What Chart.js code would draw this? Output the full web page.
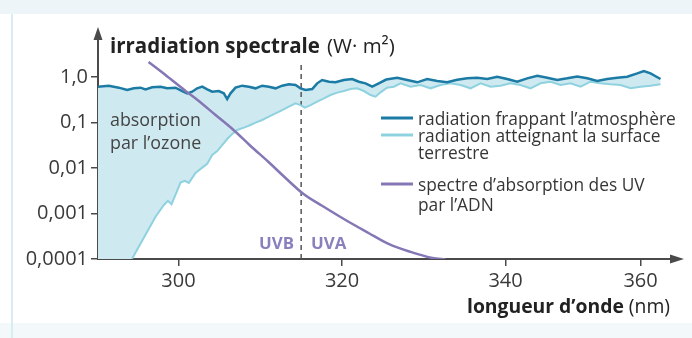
<!DOCTYPE html>
<html><head><meta charset="utf-8">
<script src="https://cdn.jsdelivr.net/npm/chart.js@4"></script>
<style>html,body{margin:0;padding:0;background:#fff;overflow:hidden}#wrap{width:692px;height:338px}</style>
</head><body><div id="wrap"><canvas id="c" width="692" height="338"></canvas></div>
<script>
// ---------- data ----------
const atmoWavelengths = [290.0,291.47,292.70,293.72,294.53,295.35,295.96,296.78,297.80,298.62,299.63,300.45,301.06,301.67,302.28,302.90,303.51,304.12,304.93,305.54,305.95,306.36,306.97,307.79,308.60,309.42,310.23,311.05,311.87,312.68,313.50,314.31,314.92,315.54,316.35,316.96,317.57,318.39,319.20,320.22,321.24,322.06,322.87,323.69,324.50,325.40,326.75,327.97,329.20,330.42,331.64,332.87,334.09,335.31,336.54,337.76,338.98,340.25,341.73,343.21,344.70,346.18,347.66,349.14,350.62,352.10,353.58,355.06,356.54,358.03,359.51,360.49,361.48,362.96];
const atmoIrradiance = [0.61,0.645,0.583,0.518,0.564,0.583,0.536,0.593,0.613,0.564,0.583,0.492,0.438,0.476,0.564,0.613,0.536,0.476,0.492,0.438,0.328,0.438,0.583,0.645,0.613,0.564,0.645,0.613,0.564,0.645,0.690,0.667,0.564,0.518,0.545,0.726,0.859,0.789,0.764,0.859,0.904,0.789,0.726,0.613,0.726,0.88,0.967,0.859,0.764,0.904,0.817,0.764,0.874,0.935,0.967,0.904,1.017,0.904,0.789,0.935,1.07,0.967,0.859,0.935,1.03,0.935,0.817,0.904,0.967,1.017,1.20,1.355,1.20,0.904];

const surfWavelengths = [290.0,294.3,295.96,297.19,298.21,298.7,299.14,299.84,300.24,300.77,301.26,302.08,302.90,303.51,304.12,304.73,305.34,305.95,306.57,307.18,307.99,308.81,309.42,310.23,311.05,311.87,312.68,313.50,314.31,314.92,315.46,316.15,316.96,317.78,318.59,319.41,320.22,321.04,321.85,322.67,323.49,324.10,324.71,325.5,326.34,327.16,328.38,329.60,330.83,332.05,333.27,334.50,335.72,336.94,338.17,339.39,340.74,342.22,343.70,345.19,346.67,348.15,349.63,351.11,352.59,354.07,355.56,357.04,358.52,360.00,361.48,362.96];
const surfIrradiance = [0.000006,0.0001,0.00034,0.00085,0.00154,0.0019,0.0016,0.0032,0.0048,0.0052,0.0047,0.0078,0.0102,0.0124,0.0193,0.0235,0.032,0.0434,0.0559,0.0685,0.077,0.0881,0.0991,0.1135,0.134,0.159,0.188,0.223,0.264,0.242,0.212,0.242,0.287,0.340,0.402,0.453,0.492,0.545,0.564,0.492,0.402,0.370,0.461,0.58,0.613,0.726,0.613,0.667,0.564,0.667,0.726,0.667,0.564,0.726,0.613,0.645,0.726,0.667,0.564,0.726,0.789,0.667,0.726,0.613,0.789,0.726,0.690,0.667,0.564,0.613,0.645,0.690];

const dnaWavelengths = [296.33,298.41,300.86,302.32,304.53,306.73,308.81,311.01,313.09,315.29,317.61,320.43,323.24,325.69,328.38,331.07,332.66];
const dnaAbsorption = [2.14,1.106,0.492,0.312,0.146,0.0684,0.0305,0.01355,0.00603,0.00268,0.00146,0.000719,0.000373,0.000214,0.000143,0.000105,0.0000975];

const uvBoundary = 315;
const uvBoundaryRange = [0.0001, 2.03];

const xTickValues = [300, 320, 340, 360];
const yTickValues = [0.0001, 0.001, 0.01, 0.1, 1];
const yTickLabels = ['0,0001', '0,001', '0,01', '0,1', '1,0'];

const seriesNames = ['radiation frappant l’atmosphère', 'radiation atteignant la surface terrestre', 'spectre d’absorption des UV par l’ADN'];

// ---------- styles ----------
const C_ATMO = '#1b7ba5', C_SURF = '#8fd2df', C_FILL = '#cfe9f1', C_DNA = '#8577b5', C_UV = '#8a80bd';
const C_AXIS = '#4a4a4a', C_TEXT = '#363636';
const FONT = '"Open Sans"';

// the reference axis is compressed beyond 340 nm
const K = 0.8257;
const warp = v => v <= 340 ? v : 340 + (v - 340) * K;
const unwarp = w => w <= 340 ? w : 340 + (w - 340) / K;
class WarpScale extends Chart.LinearScale {
  getPixelForValue(value) {
    if (value == null) return NaN;
    const a = warp(this.min), b = warp(this.max);
    return this.getPixelForDecimal((warp(value) - a) / (b - a));
  }
  getValueForPixel(pixel) {
    const a = warp(this.min), b = warp(this.max);
    return unwarp(a + this.getDecimalForPixel(pixel) * (b - a));
  }
}
WarpScale.id = 'warp';
WarpScale.defaults = Chart.LinearScale.defaults;
Chart.register(WarpScale);

const zip = (xs, ys) => xs.map((x, i) => ({x, y: ys[i]}));

function fitSize(ctx, text, target, weight) {
  ctx.font = weight + ' 20px ' + FONT;
  return 20 * target / ctx.measureText(text).width;
}

const annot = {
  id: 'annot',
  beforeDraw(chart) {
    const ctx = chart.ctx;
    ctx.save();
    ctx.fillStyle = '#ffffff'; ctx.fillRect(0, 0, 692, 338);
    ctx.fillStyle = '#eef5f8'; ctx.fillRect(0, 0, 692, 14);
    ctx.fillStyle = '#f3f8fa'; ctx.fillRect(0, 323, 692, 15);
    ctx.fillStyle = '#d8edf3'; ctx.fillRect(11, 14, 2, 324);
    ctx.restore();
  },
  afterDraw(chart) {
    const ctx = chart.ctx, a = chart.chartArea;
    ctx.save();
    // arrows
    ctx.fillStyle = C_AXIS;
    ctx.beginPath(); ctx.moveTo(a.left, 27); ctx.lineTo(a.left - 4.5, 40); ctx.lineTo(a.left + 4.5, 40); ctx.closePath(); ctx.fill();
    ctx.beginPath(); ctx.moveTo(684, a.bottom); ctx.lineTo(670, a.bottom - 4.5); ctx.lineTo(670, a.bottom + 4.5); ctx.closePath(); ctx.fill();
    // y title
    ctx.fillStyle = '#222';
    ctx.textBaseline = 'alphabetic';
    ctx.textAlign = 'left';
    let s = fitSize(ctx, 'irradiation spectrale', 210, 'bold');
    ctx.font = 'bold ' + s + 'px ' + FONT;
    ctx.fillText('irradiation spectrale', 110, 53);
    ctx.font = s + 'px ' + FONT;
    ctx.fillText('(W· m²)', 327, 53);
    // x title
    s = fitSize(ctx, 'longueur d’onde', 157, 'bold');
    ctx.font = 'bold ' + s + 'px ' + FONT;
    ctx.fillText('longueur d’onde', 467, 313);
    const wb = ctx.measureText('longueur d’onde').width;
    ctx.font = s + 'px ' + FONT;
    ctx.fillText('(nm)', 467 + wb + 5, 313);
    // annotation
    ctx.fillStyle = '#444';
    s = fitSize(ctx, 'absorption', 91, '');
    ctx.font = s + 'px ' + FONT;
    ctx.textBaseline = 'middle';
    ctx.fillText('absorption', 110, 121);
    ctx.fillText('par l’ozone', 110, 144);
    // UVB / UVA
    ctx.fillStyle = C_UV;
    s = fitSize(ctx, 'UVB', 35, 'bold');
    ctx.font = 'bold ' + s + 'px ' + FONT;
    ctx.textAlign = 'right';
    ctx.fillText('UVB', 294, 244);
    ctx.textAlign = 'left';
    ctx.fillText('UVA', 311, 244);
    // legend
    const rows = [
      {color: C_ATMO, lines: ['radiation frappant l’atmosphère'], ys: [120]},
      {color: C_SURF, lines: ['radiation atteignant la surface', 'terrestre'], ys: [137, 154]},
      {color: C_DNA, lines: ['spectre d’absorption des UV', 'par l’ADN'], ys: [186, 206]},
    ];
    s = fitSize(ctx, rows[0].lines[0], 258, '');
    ctx.font = s + 'px ' + FONT;
    rows.forEach(r => {
      ctx.strokeStyle = r.color; ctx.lineWidth = 3;
      ctx.beginPath(); ctx.moveTo(381, r.ys[0] - 2); ctx.lineTo(413, r.ys[0] - 2); ctx.stroke();
      ctx.fillStyle = C_TEXT;
      r.lines.forEach((t, i) => ctx.fillText(t, 418, r.ys[i]));
    });
    ctx.restore();
  }
};

new Chart(document.getElementById('c'), {
  type: 'line',
  data: {
    datasets: [
      {label: seriesNames[0], data: zip(atmoWavelengths, atmoIrradiance), borderColor: C_ATMO, borderWidth: 2.5, backgroundColor: C_FILL, fill: '+1', tension: 0, pointRadius: 0, order: 1},
      {label: seriesNames[1], data: zip(surfWavelengths, surfIrradiance), borderColor: C_SURF, borderWidth: 2, fill: false, tension: 0, pointRadius: 0, order: 2},
      {label: seriesNames[2], data: zip(dnaWavelengths, dnaAbsorption), borderColor: C_DNA, borderWidth: 2.5, fill: false, cubicInterpolationMode: 'monotone', pointRadius: 0, order: 0},
      {label: 'UVB/UVA', data: [{x: uvBoundary, y: uvBoundaryRange[0]}, {x: uvBoundary, y: uvBoundaryRange[1]}], borderColor: '#555', borderWidth: 1.5, borderDash: [5, 4], fill: false, pointRadius: 0, order: 3}
    ]
  },
  options: {
    responsive: false, animation: false, devicePixelRatio: 1,
    layout: {padding: {left: 0, right: 20, top: 38, bottom: 0}},
    plugins: {legend: {display: false}, tooltip: {enabled: false}, filler: {drawTime: 'beforeDatasetsDraw'}},
    scales: {
      x: {
        type: 'warp', min: 290.15, max: 364.66, bounds: 'data', z: 1,
        afterBuildTicks: s => { s.ticks = xTickValues.map(v => ({value: v})); },
        afterFit: s => { s.height = 79; },
        grid: {drawOnChartArea: false, drawTicks: true, tickLength: 7, color: C_AXIS, lineWidth: 1.5},
        border: {display: true, color: C_AXIS, width: 2},
        ticks: {autoSkip: false, maxRotation: 0, padding: 3, color: '#3a3a3a', font: {family: 'Open Sans', size: 20}, callback: (v, i) => String(xTickValues[i])}
      },
      y: {
        type: 'logarithmic', min: 0.0001, max: 7.2, bounds: 'data', z: 1,
        afterBuildTicks: s => { s.ticks = yTickValues.map(v => ({value: v})); },
        afterFit: s => { s.width = 98; },
        grid: {drawOnChartArea: false, drawTicks: true, tickLength: 7, color: C_AXIS, lineWidth: 1.5},
        border: {display: true, color: C_AXIS, width: 2},
        ticks: {autoSkip: false, padding: 3, color: '#3a3a3a', font: {family: 'Open Sans', size: 20}, callback: (v, i) => yTickLabels[i]}
      }
    }
  },
  plugins: [annot]
});
</script></body></html>
